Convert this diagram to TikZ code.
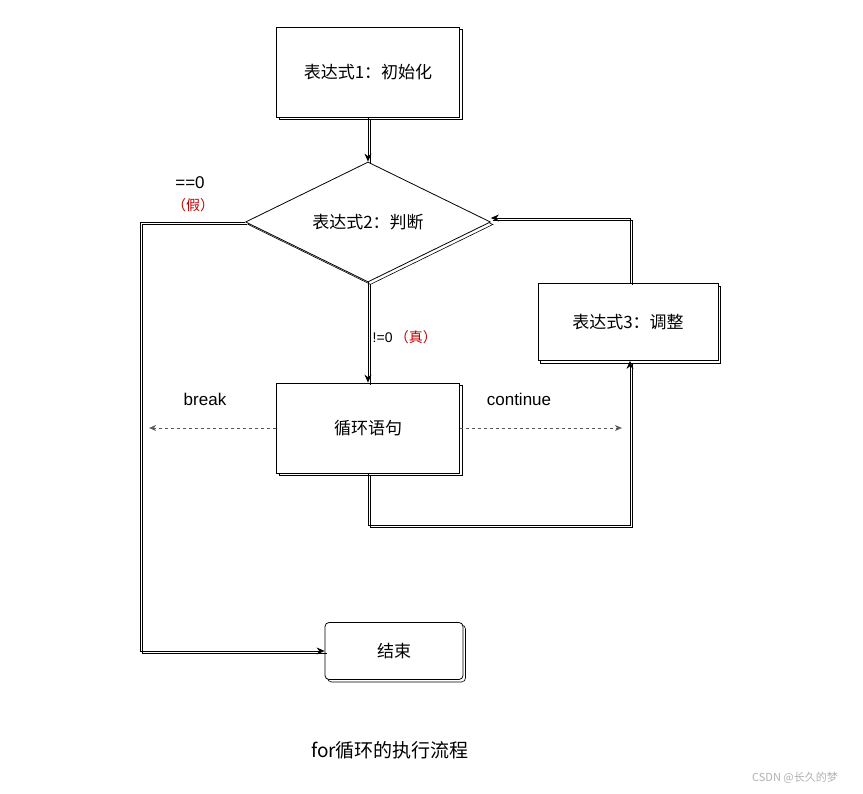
\documentclass[tikz,border=0pt]{standalone}
\usepackage{fontspec}
\setmainfont{Liberation Sans}
\newfontfamily\cjk{Noto Sans CJK SC}
\usetikzlibrary{shapes.geometric,arrows.meta,positioning}
\tikzset{
  sketch/.style = {draw, line width = 0.8pt, fill = white,
    preaction = {draw, line width = 0.6pt, transform canvas = {shift = {(2.5pt, -2.5pt)}}}},
  flowbox/.style = {sketch, minimum width = 183pt, minimum height = 90pt, font = \cjk\fontsize{17pt}{19pt}\selectfont},
  flowline/.style = {line width = 0.7pt, -{Stealth[length=8pt, width=7pt]},
    preaction = {draw, line width = 0.5pt, -, transform canvas = {shift = {(2pt, -2pt)}}}},
  jumpline/.style = {dashed, line width = 0.6pt, gray!70!black, -{Stealth[length=7pt, width=6pt]}},
  redlbl/.style = {text = red!75!black, font = \cjk\fontsize{14pt}{16pt}\selectfont},
  lbl/.style = {font = \fontsize{17pt}{19pt}\selectfont}
}
\begin{document}
\begin{tikzpicture}[x = 1pt, y = -1pt]
		\useasboundingbox[fill = white] (0, 0) rectangle (863, 794);
		\node[flowbox] (init) at (368, 72) {表达式1：初始化};
		\node[sketch, diamond, aspect = 2.05, minimum width = 245pt, minimum height = 120pt, inner sep = 0pt, font = \cjk\fontsize{17pt}{19pt}\selectfont] (cond) at (368, 222) {表达式2：判断};
		\node[flowbox, minimum width = 180pt, minimum height = 77pt] (step3) at (628, 322) {表达式3：调整};
		\node[flowbox] (body) at (368, 428) {循环语句};
		\node[sketch, rounded corners = 4pt, minimum width = 138pt, minimum height = 57pt, font = \cjk\fontsize{17pt}{19pt}\selectfont] (finish) at (394, 651) {结束};
		% connectors
		\coordinate (lt) at (140, 222);
		\coordinate (lb) at (140, 651);
		\coordinate (bb) at (368, 525);
		\coordinate (br) at (630, 525);
		\coordinate (tr) at (630, 218);
		\draw[flowline] (init.south) -- (cond.north);
		\draw[flowline] (cond.south) -- node[pos = 0.55, right = 1pt, font = \fontsize{14pt}{16pt}\selectfont] (ne) {!=0} (body.north);
		\node[redlbl, right = -5pt of ne] (truelbl) {（真）};
		\draw[flowline] (cond.west) -- (lt) -- (lb) -- (finish.west);
		\draw[flowline] (body.south) -- (bb) -- (br) -- (step3.south -| br);
		\draw[flowline] (step3.north -| tr) -- (tr) -- (cond.east |- tr);
		\draw[jumpline] (body.west) -- ++(-127, 0) coordinate (bk);
		\draw[jumpline] (body.east) -- ++(162, 0) coordinate (ct);
		% labels
		\node[lbl] (eq) at (190, 183) {==0};
		\node[redlbl] (falselbl) at (193, 205) {（假）};
		\node[lbl] (brk) at (205, 399) {break};
		\node[lbl] (cnt) at (519, 399) {continue};
		\node[font = \cjk\fontsize{19pt}{21pt}\selectfont] (title) at (390, 750) {for循环的执行流程};
		\node[text = gray!60, font = \cjk\fontsize{11pt}{13pt}\selectfont] (mark) at (795, 778) {CSDN @长久的梦};
\end{tikzpicture}
\end{document}
